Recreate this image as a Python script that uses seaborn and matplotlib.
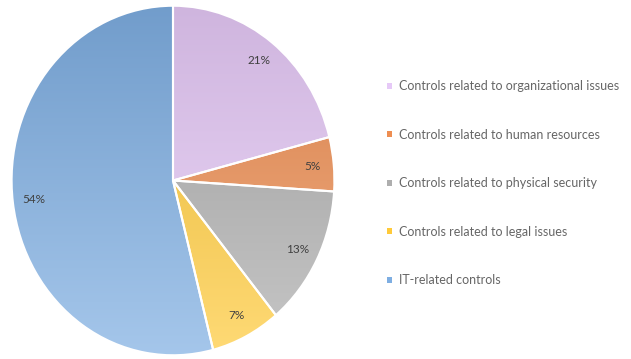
import numpy as np
import seaborn as sns
import matplotlib.pyplot as plt
from matplotlib.patches import Patch

categories = ['Controls related to organizational issues',
              'Controls related to human resources',
              'Controls related to physical security',
              'Controls related to legal issues',
              'IT-related controls']
shares = [21, 5, 13, 7, 54]
colors = ['#E6C9F7', '#EE8E52', '#AEAEAE', '#FFCA3A', '#7EAEE2']

sns.set_theme(style='white')
plt.rcParams['font.family'] = ['Lato', 'DejaVu Sans']

fig = plt.figure(figsize=(6.31, 3.59), dpi=100)
ax = fig.add_axes([10/631, 2/359, 326/631, 353/359])

wedges, texts, autotexts = ax.pie(shares, colors=colors, startangle=90, counterclock=False,
                                  autopct='%d%%', pctdistance=0.87,
                                  wedgeprops=dict(edgecolor='white', linewidth=1.5),
                                  textprops=dict(fontsize=8.5, color='#404040'))
ax.axis('off')

# soft vertical shading like the original office chart (darker at top)
grad = np.linspace(0, 1, 256).reshape(-1, 1)
for w, c in zip(wedges, colors):
    base = np.array(plt.matplotlib.colors.to_rgb(c))
    top = base * 0.9
    bottom = np.clip(base + (1 - base) * 0.3, 0, 1)
    img = top + (bottom - top) * grad[:, :, None]
    im = ax.imshow(img, extent=[-1, 1, -1, 1], origin='upper', aspect='auto', zorder=2)
    im.set_clip_path(w)
for w in wedges:
    w.set_facecolor('none')
    w.set_zorder(3)
for t in autotexts:
    t.set_zorder(4)
ax.set_aspect('auto')
ax.set_xlim(-1.01, 1.01)
ax.set_ylim(-1.01, 1.01)

handles = [Patch(facecolor=c, edgecolor='none') for c in colors]
fig.legend(handles, categories, loc='upper left', bbox_to_anchor=(376/631, 1 - 69/359),
           frameon=False, fontsize=9, labelcolor='#666666', handlelength=0.4, handleheight=0.4,
           handletextpad=0.5, labelspacing=2.92)

fig.savefig('out.png', dpi=100)
